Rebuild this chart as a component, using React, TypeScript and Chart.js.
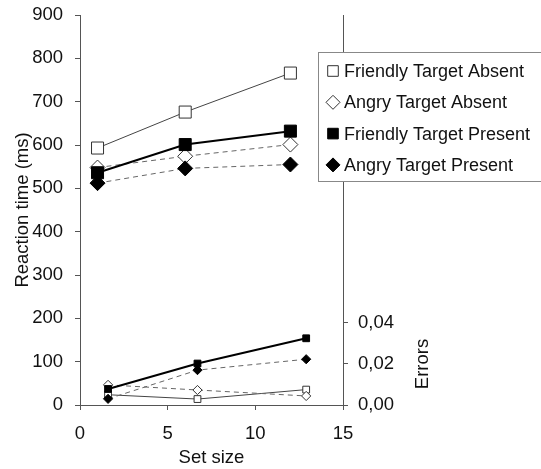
import React, { useEffect, useRef } from 'react';
import { Chart, registerables } from 'chart.js';

Chart.register(...registerables);

// ---- data ----
const seriesLabels = ['Friendly Target Absent', 'Angry Target Absent', 'Friendly Target Present', 'Angry Target Present'];
const setSizes = [1, 6, 12];
const errorSetSizes = [1.6, 6.7, 12.9];
const rtFriendlyAbsent = [593, 676, 766];
const rtAngryAbsent = [548, 574, 601];
const rtFriendlyPresent = [536, 601, 632];
const rtAngryPresent = [512, 546, 555];
const errFriendlyAbsent = [0.005, 0.0029, 0.0075];
const errAngryAbsent = [0.0098, 0.0073, 0.0044];
const errFriendlyPresent = [0.0078, 0.0202, 0.0325];
const errAngryPresent = [0.003, 0.017, 0.0223];
const xTicks = [0, 5, 10, 15];
const rtTicks = [0, 100, 200, 300, 400, 500, 600, 700, 800, 900];
const errorTicks = [0, 0.02, 0.04];
const xTitle = 'Set size';
const rtTitle = 'Reaction time (ms)';
const errTitle = 'Errors';

// ---- styles ----
const FONT = "'Liberation Sans', Arial, sans-serif";
const TEXT = '#111';
const AXIS = '#555';
const styles = [
  { pointStyle: 'rect', fill: '#fff', stroke: '#333', lineWidth: 1, dash: [] as number[], lineColor: '#444', big: 8.5, small: 4.8, legend: 7.5 },
  { pointStyle: 'rectRot', fill: '#fff', stroke: '#333', lineWidth: 1, dash: [5, 4], lineColor: '#666', big: 7.5, small: 4.6, legend: 7 },
  { pointStyle: 'rect', fill: '#000', stroke: '#000', lineWidth: 2, dash: [] as number[], lineColor: '#000', big: 8.5, small: 4.8, legend: 7.5 },
  { pointStyle: 'rectRot', fill: '#000', stroke: '#000', lineWidth: 1, dash: [5, 4], lineColor: '#666', big: 7.5, small: 4.6, legend: 7 },
];

const rtSeries = [rtFriendlyAbsent, rtAngryAbsent, rtFriendlyPresent, rtAngryPresent];
const errSeries = [errFriendlyAbsent, errAngryAbsent, errFriendlyPresent, errAngryPresent];

function drawMarker(ctx: CanvasRenderingContext2D, kind: string, x: number, y: number, r: number, fill: string, stroke: string) {
  ctx.save();
  ctx.beginPath();
  if (kind === 'rect') {
    const s = Math.SQRT1_2 * r;
    ctx.rect(x - s, y - s, 2 * s, 2 * s);
  } else {
    ctx.moveTo(x - r, y);
    ctx.lineTo(x, y - r);
    ctx.lineTo(x + r, y);
    ctx.lineTo(x, y + r);
    ctx.closePath();
  }
  ctx.fillStyle = fill;
  ctx.fill();
  ctx.lineWidth = 1;
  ctx.strokeStyle = stroke;
  ctx.stroke();
  ctx.restore();
}

const overlayPlugin = {
  id: 'overlay',
  afterDraw(chart: any) {
    const ctx: CanvasRenderingContext2D = chart.ctx;
    const y2 = chart.scales.y2;
    ctx.save();
    ctx.font = `18.5px ${FONT}`;
    ctx.fillStyle = TEXT;
    ctx.textAlign = 'center';
    ctx.textBaseline = 'middle';
    ctx.translate(423, y2.getPixelForValue(errorTicks[1]));
    ctx.rotate(-Math.PI / 2);
    ctx.fillText(errTitle, 0, 0);
    ctx.restore();

    ctx.save();
    ctx.fillStyle = '#fff';
    ctx.fillRect(318, 52, 240, 130);
    ctx.strokeStyle = '#888';
    ctx.lineWidth = 1;
    ctx.strokeRect(318.5, 52.5, 240, 129);
    ctx.font = `18px ${FONT}`;
    ctx.fillStyle = TEXT;
    ctx.textAlign = 'left';
    ctx.textBaseline = 'middle';
    seriesLabels.forEach((label, i) => {
      const st = styles[i];
      const yy = 71 + i * 31.3;
      drawMarker(ctx, st.pointStyle, 333, yy, st.legend, st.fill, st.stroke);
      ctx.fillText(label, 344, yy + 1);
    });
    ctx.restore();
  },
};

export default function App() {
  const ref = useRef<HTMLCanvasElement>(null);
  useEffect(() => {
    document.body.style.margin = '0';
    const datasets: any[] = [];
    seriesLabels.forEach((label, i) => {
      const st = styles[i];
      datasets.push({
        label,
        data: setSizes.map((x, j) => ({ x, y: rtSeries[i][j] })),
        yAxisID: 'y',
        borderColor: st.lineColor,
        borderWidth: st.lineWidth,
        borderDash: st.dash,
        pointStyle: st.pointStyle,
        pointRadius: st.big,
        pointBackgroundColor: st.fill,
        pointBorderColor: st.stroke,
        pointBorderWidth: 1,
        fill: false,
        order: 10 - i,
      });
    });
    seriesLabels.forEach((label, i) => {
      const st = styles[i];
      datasets.push({
        label: label + ' (errors)',
        data: errorSetSizes.map((x, j) => ({ x, y: errSeries[i][j] })),
        yAxisID: 'y2',
        borderColor: st.lineColor,
        borderWidth: st.lineWidth,
        borderDash: st.dash,
        pointStyle: st.pointStyle,
        pointRadius: st.small,
        pointBackgroundColor: st.fill,
        pointBorderColor: st.stroke,
        pointBorderWidth: 1,
        fill: false,
        order: 10 - i,
      });
    });

    const tickFont = { family: FONT, size: 18.5 };
    const fitV = (w: number) => (s: any) => { s.width = w; s.paddingTop = 0; s.paddingBottom = 0; };
    const chart = new Chart(ref.current as HTMLCanvasElement, {
      type: 'line',
      data: { datasets },
      plugins: [overlayPlugin],
      options: {
        animation: false,
        responsive: false,
        layout: { padding: { top: 15, left: 0, right: 0, bottom: 0 } },
        plugins: { legend: { display: false }, tooltip: { enabled: false } },
        scales: {
          x: {
            type: 'linear',
            min: 0,
            max: 15,
            afterBuildTicks: (s: any) => { s.ticks = xTicks.map((v) => ({ value: v })); },
            afterFit: (s: any) => { s.height = 64; s.paddingLeft = 0; s.paddingRight = 0; },
            ticks: { font: tickFont, color: TEXT, padding: 13, maxRotation: 0 },
            grid: { drawOnChartArea: false, tickLength: 5, color: AXIS },
            border: { color: AXIS, width: 1 },
            title: { display: true, text: xTitle, font: tickFont, color: TEXT, padding: { top: 0, bottom: 0 } },
          },
          y: {
            type: 'linear',
            position: 'left',
            min: 0,
            max: 900,
            afterBuildTicks: (s: any) => { s.ticks = rtTicks.map((v) => ({ value: v })); },
            afterFit: fitV(80),
            ticks: { font: tickFont, color: TEXT, padding: 12 },
            grid: { drawOnChartArea: false, tickLength: 5, color: AXIS },
            border: { color: AXIS, width: 1 },
            title: { display: true, text: rtTitle, font: tickFont, color: TEXT, padding: { top: 12, bottom: 0 } },
          },
          y2: {
            type: 'linear',
            position: 'right',
            min: 0,
            max: 0.19,
            afterBuildTicks: (s: any) => { s.ticks = errorTicks.map((v) => ({ value: v })); },
            afterFit: fitV(198),
            ticks: {
              font: tickFont,
              color: TEXT,
              padding: 10,
              callback: (v: any) => Number(v).toFixed(2).replace('.', ','),
            },
            grid: { drawOnChartArea: false, tickLength: 5, color: AXIS },
            border: { color: AXIS, width: 1 },
          },
        },
      } as any,
    });
    return () => chart.destroy();
  }, []);

  return (
    <div style={{ width: 541, height: 469 }}>
      <canvas ref={ref} width={541} height={469} style={{ display: 'block' }} />
    </div>
  );
}
